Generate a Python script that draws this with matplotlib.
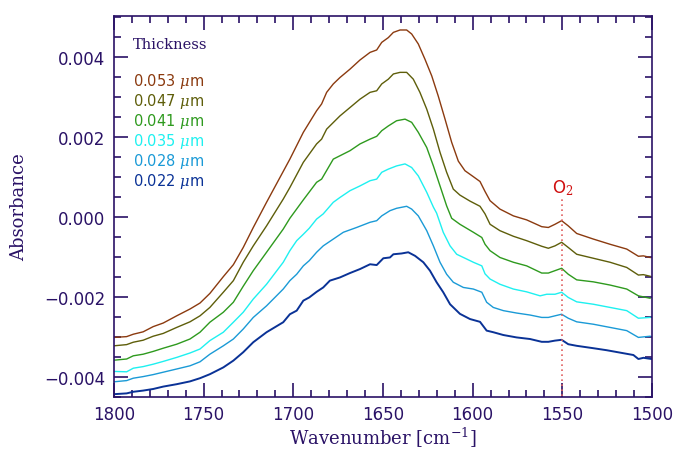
import numpy as np
import matplotlib
matplotlib.use('Agg')
import matplotlib.pyplot as plt
from matplotlib.ticker import MultipleLocator

# thickness labels and colours of the six spectra
thick = ['0.053', '0.047', '0.041', '0.035', '0.028', '0.022']
cols = ['#8b3a0f', '#5e5e0a', '#2e9a1e', '#1ef0f0', '#1a9ad6', '#0a3296']

# spectra (wavenumber, absorbance)
wn_053 = [1800, 1792.9, 1789.2, 1783.7, 1778.1, 1772.5, 1765.0, 1757.6, 1752.0, 1746.5, 1739.0, 1733.4,
          1727.9, 1722.3, 1714.9, 1701.9, 1694.4, 1687.0, 1684.2, 1681.4, 1677.7, 1674.0, 1668.4, 1662.8,
          1657.2, 1653.5, 1650.7, 1647.0, 1644.2, 1640.5, 1636.8, 1634.0, 1630.3, 1626.6, 1622.8, 1619.2,
          1615.4, 1611.7, 1608.0, 1604.3, 1599.6, 1595.9, 1593.1, 1590.3, 1584.8, 1577.3, 1569.9, 1561.5,
          1557.8, 1554.1, 1550.4, 1546.7, 1542.0, 1532.7, 1523.4, 1514.1, 1507.6, 1504.8, 1501.1]
ab_053 = [-0.00301, -0.00299, -0.00293, -0.00287, -0.00274, -0.00265, -0.00247, -0.00230, -0.00215,
          -0.00191, -0.00149, -0.00119, -0.00076, -0.00026, 0.00037, 0.00145, 0.00212, 0.00266, 0.00283,
          0.00312, 0.00333, 0.00349, 0.00370, 0.00393, 0.00412, 0.00418, 0.00437, 0.00449, 0.00462,
          0.00468, 0.00468, 0.00458, 0.00433, 0.00395, 0.00353, 0.00303, 0.00245, 0.00187, 0.00140,
          0.00116, 0.00101, 0.00089, 0.00064, 0.00041, 0.00020, 0.00003, -0.00007, -0.00024, -0.00026,
          -0.00018, -0.00009, -0.00022, -0.00041, -0.00055, -0.00068, -0.00080, -0.00098, -0.00097, -0.00101]

wn_047 = [1800, 1792.9, 1789.2, 1783.7, 1778.1, 1772.5, 1765.0, 1757.6, 1752.0, 1746.5, 1739.0, 1733.4,
          1727.9, 1722.3, 1714.9, 1705.6, 1701.9, 1694.4, 1687.0, 1684.2, 1681.4, 1674.0, 1668.4, 1662.8,
          1657.2, 1653.5, 1650.7, 1647.0, 1644.2, 1640.5, 1636.8, 1633.1, 1629.4, 1625.6, 1621.9, 1618.2,
          1614.5, 1610.8, 1607.1, 1601.5, 1595.9, 1593.1, 1590.3, 1584.8, 1577.3, 1569.9, 1561.5, 1557.8,
          1554.1, 1550.4, 1546.7, 1542.0, 1532.7, 1523.4, 1514.1, 1507.6, 1504.8, 1501.1]
ab_047 = [-0.00322, -0.00319, -0.00313, -0.00308, -0.00298, -0.00291, -0.00276, -0.00262, -0.00247,
          -0.00226, -0.00188, -0.00159, -0.00113, -0.00072, -0.00022, 0.00045, 0.00074, 0.00137, 0.00183,
          0.00195, 0.00220, 0.00253, 0.00274, 0.00295, 0.00312, 0.00316, 0.00333, 0.00345, 0.00358,
          0.00362, 0.00362, 0.00345, 0.00312, 0.00270, 0.00220, 0.00162, 0.00112, 0.00070, 0.00055,
          0.00040, 0.00027, 0.00008, -0.00018, -0.00034, -0.00048, -0.00059, -0.00073, -0.00078,
          -0.00072, -0.00063, -0.00076, -0.00093, -0.00103, -0.00113, -0.00126, -0.00145, -0.00144, -0.00148]

wn_041 = [1800, 1792.9, 1789.2, 1783.7, 1778.1, 1772.5, 1765.0, 1757.6, 1752.0, 1746.5, 1739.0, 1733.4,
          1727.9, 1722.3, 1714.9, 1705.6, 1701.9, 1694.4, 1687.0, 1684.2, 1677.7, 1668.4, 1662.8, 1657.2,
          1653.5, 1650.7, 1647.0, 1642.4, 1637.7, 1634.0, 1630.3, 1625.6, 1621.9, 1618.2, 1614.5, 1611.7,
          1607.1, 1599.6, 1594.9, 1593.1, 1590.3, 1584.8, 1577.3, 1569.9, 1561.5, 1557.8, 1554.1, 1550.4,
          1546.7, 1542.0, 1532.7, 1523.4, 1514.1, 1507.6, 1501.1]
ab_041 = [-0.00358, -0.00355, -0.00347, -0.00343, -0.00336, -0.00328, -0.00318, -0.00305, -0.00288,
          -0.00263, -0.00238, -0.00213, -0.00173, -0.00134, -0.00088, -0.00030, -0.00003, 0.00043, 0.00087,
          0.00095, 0.00145, 0.00166, 0.00183, 0.00195, 0.00202, 0.00216, 0.00228, 0.00241, 0.00245,
          0.00237, 0.00212, 0.00174, 0.00128, 0.00078, 0.00028, -0.00003, -0.00018, -0.00038, -0.00051,
          -0.00068, -0.00084, -0.00101, -0.00113, -0.00122, -0.00140, -0.00140, -0.00134, -0.00128,
          -0.00143, -0.00157, -0.00162, -0.00170, -0.00180, -0.00197, -0.00203]

wn_035 = [1800, 1792.9, 1789.2, 1783.7, 1778.1, 1772.5, 1765.0, 1757.6, 1752.0, 1746.5, 1739.0, 1733.4,
          1727.9, 1722.3, 1714.9, 1705.6, 1701.9, 1698.1, 1694.4, 1691.1, 1687.0, 1683.3, 1677.7, 1674.0,
          1668.4, 1662.8, 1657.2, 1653.5, 1650.7, 1647.0, 1642.4, 1637.7, 1634.0, 1630.3, 1625.6, 1621.9,
          1620.1, 1616.4, 1612.6, 1608.9, 1603.3, 1599.6, 1594.9, 1593.1, 1590.3, 1584.8, 1577.3, 1569.9,
          1562.4, 1558.7, 1554.1, 1550.4, 1546.7, 1542.0, 1532.7, 1523.4, 1514.1, 1507.6, 1501.1]
ab_035 = [-0.00386, -0.00387, -0.00378, -0.00374, -0.00368, -0.00361, -0.00351, -0.00340, -0.00330,
          -0.00309, -0.00288, -0.00263, -0.00238, -0.00205, -0.00168, -0.00113, -0.00084, -0.00059,
          -0.00043, -0.00028, -0.00005, 0.00008, 0.00037, 0.00049, 0.00066, 0.00078, 0.00091, 0.00095,
          0.00112, 0.00120, 0.00128, 0.00133, 0.00124, 0.00103, 0.00062, 0.00025, 0.00010, -0.00038,
          -0.00072, -0.00093, -0.00105, -0.00113, -0.00122, -0.00142, -0.00155, -0.00168, -0.00180,
          -0.00187, -0.00197, -0.00193, -0.00193, -0.00188, -0.00201, -0.00212, -0.00218, -0.00226,
          -0.00234, -0.00253, -0.00251]

wn_028 = [1800, 1792.9, 1789.2, 1783.7, 1778.1, 1772.5, 1765.0, 1757.6, 1752.0, 1746.5, 1739.0, 1733.4,
          1727.9, 1722.3, 1714.9, 1705.6, 1701.9, 1698.1, 1694.4, 1691.1, 1687.0, 1683.3, 1677.7, 1672.1,
          1664.7, 1657.2, 1653.5, 1650.7, 1646.1, 1642.4, 1636.8, 1634.0, 1630.3, 1625.6, 1621.9, 1618.2,
          1614.5, 1610.8, 1605.2, 1599.6, 1594.9, 1592.2, 1588.5, 1582.9, 1575.5, 1568.0, 1561.5, 1557.8,
          1554.1, 1550.4, 1546.7, 1542.0, 1532.7, 1523.4, 1514.1, 1507.6, 1501.1]
ab_028 = [-0.00412, -0.00409, -0.00403, -0.00399, -0.00394, -0.00388, -0.00380, -0.00372, -0.00362,
          -0.00343, -0.00322, -0.00305, -0.00280, -0.00251, -0.00222, -0.00180, -0.00159, -0.00143,
          -0.00122, -0.00109, -0.00088, -0.00072, -0.00055, -0.00038, -0.00026, -0.00013, -0.00009,
          0.00003, 0.00016, 0.00022, 0.00027, 0.00020, 0.00003, -0.00034, -0.00072, -0.00113, -0.00143,
          -0.00163, -0.00176, -0.00180, -0.00188, -0.00213, -0.00226, -0.00234, -0.00240, -0.00245,
          -0.00251, -0.00251, -0.00247, -0.00243, -0.00253, -0.00262, -0.00268, -0.00276, -0.00284,
          -0.00301, -0.00298]

wn_022 = [1800, 1792.9, 1789.2, 1783.7, 1778.1, 1772.5, 1765.0, 1757.6, 1752.0, 1746.5, 1739.0, 1733.4,
          1727.9, 1722.3, 1714.9, 1705.6, 1701.9, 1698.1, 1694.4, 1691.1, 1687.0, 1683.3, 1679.6, 1674.0,
          1668.4, 1662.8, 1657.2, 1653.5, 1649.8, 1646.1, 1644.2, 1639.6, 1635.9, 1632.1, 1627.5, 1623.8,
          1620.1, 1616.4, 1612.6, 1607.1, 1601.5, 1595.9, 1592.2, 1588.5, 1582.9, 1575.5, 1568.0, 1561.5,
          1557.8, 1554.1, 1550.4, 1546.7, 1542.0, 1532.7, 1525.3, 1510.4, 1507.6, 1504.8, 1500.2]
ab_022 = [-0.00443, -0.00441, -0.00437, -0.00434, -0.00430, -0.00424, -0.00418, -0.00411, -0.00403,
          -0.00393, -0.00376, -0.00359, -0.00338, -0.00313, -0.00288, -0.00263, -0.00243, -0.00234,
          -0.00209, -0.00201, -0.00187, -0.00176, -0.00159, -0.00151, -0.00140, -0.00130, -0.00118,
          -0.00120, -0.00103, -0.00101, -0.00093, -0.00091, -0.00088, -0.00097, -0.00113, -0.00134,
          -0.00163, -0.00188, -0.00218, -0.00242, -0.00255, -0.00262, -0.00284, -0.00288, -0.00295,
          -0.00301, -0.00305, -0.00312, -0.00312, -0.00309, -0.00307, -0.00318, -0.00322, -0.00328,
          -0.00333, -0.00345, -0.00355, -0.00352, -0.00355]

wns = [wn_053, wn_047, wn_041, wn_035, wn_028, wn_022]
abss = [ab_053, ab_047, ab_041, ab_035, ab_028, ab_022]

o2_wn = 1550

ink = '#2a1266'
plt.rcParams['mathtext.fontset'] = 'dejavuserif'

fig = plt.figure(figsize=(6.78, 4.52), dpi=100)
ax = fig.add_axes([0.168, 0.1195, 0.7937, 0.8429])

for i in range(len(thick)):
    lw = 1.4 if i == len(thick) - 1 else 1.0
    ax.plot(wns[i], abss[i], color=cols[i], lw=lw)

# O2 line
ax.plot([o2_wn, o2_wn], [-0.0046, 0.00045], color='#e06060', lw=1.2, ls=(0, (1, 2)))
ax.text(o2_wn, 0.00075, 'O$_2$', color='#d01010', ha='center', va='center', fontsize=12,
        family='DejaVu Sans')

ax.set_xlim(1800, 1500)
ax.set_ylim(-0.0045, 0.00503)
ax.xaxis.set_major_locator(MultipleLocator(50))
ax.xaxis.set_minor_locator(MultipleLocator(10))
ax.yaxis.set_major_locator(MultipleLocator(0.002))
ax.yaxis.set_minor_locator(MultipleLocator(0.0005))
ax.yaxis.set_major_formatter(plt.FuncFormatter(lambda v, p: ('%.3f' % v).replace('-', '\u2212')))
ax.tick_params(which='both', direction='in', top=True, right=True, colors=ink, width=1.2)
ax.tick_params(which='major', length=10, labelsize=12, pad=6)
ax.tick_params(which='minor', length=5)
for s in ax.spines.values():
    s.set_color(ink)
    s.set_linewidth(1.2)

ax.set_xlabel('Wavenumber [cm$^{-1}$]', color=ink, fontsize=13, family='DejaVu Serif', labelpad=1)
ax.set_ylabel('Absorbance', color=ink, fontsize=13, family='DejaVu Serif', labelpad=12)

ax.text(0.035, 0.9265, 'Thickness', transform=ax.transAxes, color=ink, fontsize=10.5,
        family='DejaVu Serif', va='center')
for i in range(len(thick)):
    ax.text(0.035, 0.832 - i * 0.0525, thick[i] + r' $\mu$m', transform=ax.transAxes,
            color=cols[i], fontsize=10.5, va='center')

fig.savefig('out.png', dpi=100)
